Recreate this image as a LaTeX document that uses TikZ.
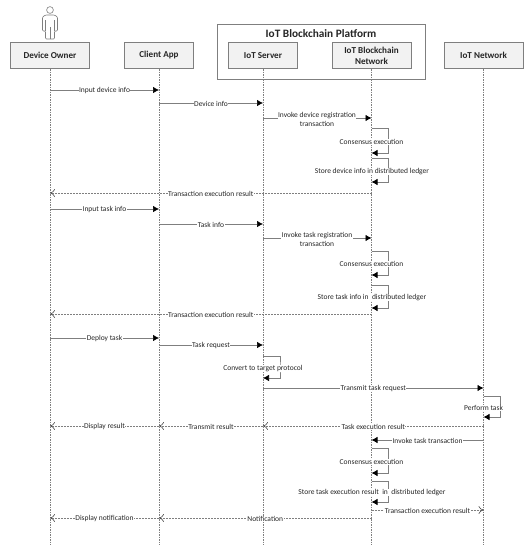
\documentclass[tikz,border=0pt]{standalone}
\usepackage{fontspec}
\setmainfont{Carlito}
\usetikzlibrary{arrows.meta}
\definecolor{boxline}{HTML}{7F7F7F}
\definecolor{boxfill}{HTML}{F2F2F2}
\definecolor{ink}{HTML}{262626}
\tikzset{
  head/.style={draw=boxline,line width=0.9pt,fill=boxfill,minimum height=26.5pt,align=center,inner sep=1pt,font=\fontsize{9.1}{11.3}\selectfont\bfseries,text=ink},
  life/.style={draw=boxline,line width=0.6pt,dash pattern=on 1.5pt off 1pt},
  sync/.style={draw=boxline,line width=0.7pt,-{Latex[length=6pt,width=6.5pt,black]}},
  ret/.style={draw=boxline,line width=0.6pt,dash pattern=on 2pt off 1pt,-{To[length=5pt,width=8pt,open,black!70]}},
  lab/.style={fill=white,inner xsep=0.5pt,inner ysep=0.3pt,font=\fontsize{7.5}{9}\selectfont,text=ink,align=center},
}
% \msg{style}{from}{to}{y}{label}
\newcommand{\msg}[5]{\draw[#1] (#2|-0,#4) -- node[lab,yshift=-0.8pt]{#5} (#3|-0,#4);}
% \selfmsg{lifeline}{y top}{y bottom}{label}{label x offset}
\newcommand{\selfmsg}[5]{\draw[sync] (#1|-0,#2) -| ++(17,{(#3-#2)/2}) |- (#1|-0,#3);
  \node[lab] at ([xshift=#5]#1|-0,{(#2+#3)/2+1.2}) {#4};}
\begin{document}
\begin{tikzpicture}[x=1pt,y=-1pt]
\useasboundingbox (0,0) rectangle (526,550);
\node[draw=boxline,line width=0.9pt,minimum width=207.5pt,minimum height=55pt,anchor=north west,inner sep=0pt] (platform) at (217,23.5) {};
\node[font=\fontsize{11.3}{13}\selectfont\bfseries,text=ink,inner sep=0pt] (ptitle) at (321,33.5) {IoT Blockchain Platform};
\node[head,minimum width=79.5pt] (owner) at (50,55.5) {Device Owner};
\node[head,minimum width=68.5pt] (app) at (159,55.5) {Client App};
\node[head,minimum width=69pt] (server) at (263,55.5) {IoT Server};
\node[head,minimum width=79pt] (chain) at (371.5,55.5) {IoT Blockchain\\Network};
\node[head,minimum width=79pt] (net) at (483.5,55.5) {IoT Network};
\coordinate (ownerEnd) at (50,545);
\coordinate (appEnd) at (159,545);
\coordinate (serverEnd) at (263,545);
\coordinate (chainEnd) at (371.5,545);
\coordinate (netEnd) at (483.5,545);
\draw[life] (owner) -- (ownerEnd);
\draw[life] (app) -- (appEnd);
\draw[life] (server) -- (serverEnd);
\draw[life] (chain) -- (chainEnd);
\draw[life] (net) -- (netEnd);
% actor
\draw[boxline,line width=0.6pt] (50,10) circle (3.4);
\draw[boxline,line width=0.6pt,rounded corners=1pt]
  (45.5,15) -- (54.5,15) -- (57.5,17) -- (57.5,31) -- (54.5,31) -- (54.5,39) -- (45.5,39) -- (45.5,31) -- (42.5,31) -- (42.5,17) -- cycle;
\draw[boxline,line width=0.5pt] (45.5,20) -- (45.5,31) (54.5,20) -- (54.5,31) (50,27) -- (50,39);
% messages
\msg{sync}{owner}{app}{90}{Input device info}
\msg{sync}{app}{server}{103}{Device info}
\draw[sync] (server|-0,118) -- (chain|-0,118);
\node[lab] at (317,119.5) {Invoke device registration\\transaction};
\selfmsg{chain}{128}{153}{Consensus execution}{0pt}
\selfmsg{chain}{158}{182}{Store device info in distributed ledger}{0.5pt}
\msg{ret}{chain}{owner}{193}{Transaction execution result}
\msg{sync}{owner}{app}{209}{Input task info}
\msg{sync}{app}{server}{224}{Task info}
\draw[sync] (server|-0,238) -- (chain|-0,238);
\node[lab] at (317,239.5) {Invoke task registration\\transaction};
\selfmsg{chain}{251}{275}{Consensus execution}{0pt}
\selfmsg{chain}{285}{308}{Store task info in\ \ distributed ledger}{0.5pt}
\msg{ret}{chain}{owner}{314}{Transaction execution result}
\msg{sync}{owner}{app}{338}{Deploy task}
\msg{sync}{app}{server}{345}{Task request}
\selfmsg{server}{356}{378}{Convert to target protocol}{0pt}
\msg{sync}{server}{net}{388}{Transmit task request}
\selfmsg{net}{396}{417}{Perform task}{0pt}
\msg{ret}{net}{server}{426}{Task execution result}
\msg{ret}{server}{app}{426}{Transmit result}
\msg{ret}{app}{owner}{426}{Display result}
\msg{sync}{net}{chain}{440}{Invoke task transaction}
\selfmsg{chain}{448}{473}{Consensus execution}{0pt}
\selfmsg{chain}{481}{502}{Store task execution result\ \ in\ \ distributed ledger}{0.5pt}
\msg{ret}{chain}{net}{510}{Transaction execution result}
\msg{ret}{chain}{app}{518}{Notification}
\msg{ret}{app}{owner}{518}{Display notification}
\end{tikzpicture}
\end{document}
